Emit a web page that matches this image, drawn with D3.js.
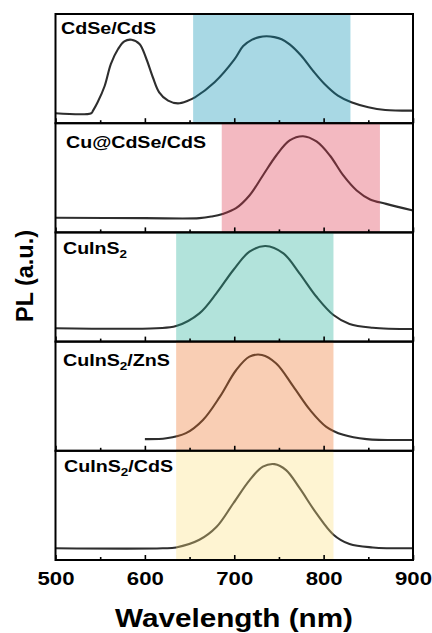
<!DOCTYPE html>
<html>
<head>
<meta charset="utf-8">
<script src="https://cdn.jsdelivr.net/npm/d3@7"></script>
<style>
  body { margin: 0; background: #fff; }
  text { font-family: "Liberation Sans", Arial, sans-serif; font-weight: bold; fill: #000; }
</style>
</head>
<body>
<div class="chart"></div>
<script>
// x axis ticks (nm)
var majorTicks = [500, 600, 700, 800, 900];
var minorTicks = [550, 650, 750, 850];

// sample names, "_2" marks a subscript 2
var sampleNames = ["CdSe/CdS", "Cu@CdSe/CdS", "CuInS_2", "CuInS_2/ZnS", "CuInS_2/CdS"];

// PL spectra: [wavelength nm, intensity a.u.]
var cdseCds = [[500, 0], [540, 0], [542, 0.03], [547, 0.125], [555, 0.32], [562, 0.58], [570, 0.755],
  [577, 0.846], [585, 0.865], [594, 0.814], [601, 0.658], [609, 0.42], [616, 0.246], [626, 0.147],
  [637, 0.116], [648, 0.147], [656, 0.187], [678, 0.364], [700, 0.63], [710, 0.79], [720, 0.865],
  [728, 0.895], [736, 0.905], [745, 0.895], [753, 0.87], [762, 0.81], [775, 0.676], [788, 0.5],
  [801, 0.343], [816, 0.206], [831, 0.128], [850, 0.07], [869, 0.038], [900, 0.03]];
var cuCdseCds = [[500, 0.055], [600, 0.05], [661, 0.05], [675, 0.07], [687, 0.1], [702, 0.167],
  [717, 0.316], [732, 0.552], [747, 0.787], [762, 0.964], [777, 1.014], [792, 0.952], [807, 0.787],
  [822, 0.552], [837, 0.375], [852, 0.27], [870, 0.218], [900, 0.14]];
var cuInS2 = [[500, 0.04], [613, 0.04], [635, 0.065], [661, 0.215], [680, 0.45], [699, 0.725],
  [717, 0.94], [735, 1.007], [755, 0.92], [773, 0.686], [792, 0.41], [811, 0.195], [829, 0.09],
  [855, 0.046], [900, 0.03]];
var cuInS2ZnS = [[600, 0.02], [624, 0.03], [646, 0.09], [665, 0.245], [684, 0.52], [702, 0.83],
  [717, 0.99], [731, 1.01], [747, 0.91], [766, 0.64], [785, 0.36], [803, 0.165], [822, 0.07],
  [848, 0.02], [900, 0.01]];
var cuInS2CdS = [[500, 0.02], [620, 0.02], [635, 0.03], [661, 0.12], [680, 0.27], [699, 0.55],
  [717, 0.82], [732, 0.98], [745, 1.01], [758, 0.94], [773, 0.73], [792, 0.43], [811, 0.18],
  [829, 0.07], [855, 0.03], [900, 0.02]];
var spectra = [cdseCds, cuCdseCds, cuInS2, cuInS2ZnS, cuInS2CdS];

// shaded emission windows (nm)
var bandRanges = [[654, 830], [686, 863], [635, 811], [635, 811], [635, 811]];
var bandColors = ["#068fb2", "#dd374e", "#23af98", "#ee7328", "#fce07f"];

var svgWidth = 432;
var svgHeight = 633;
var margin = { top: 14, left: 55.5, right: 19, bottom: 73 };
var width = svgWidth - margin.left - margin.right;
var height = svgHeight - margin.top - margin.bottom;
var panelH = height / spectra.length;

// label placement inside each panel: offset from panel corner and drawn width
var labelLayout = [
  { dx: 5.5, dy: 20, w: 95 },
  { dx: 10.5, dy: 25, w: 140 },
  { dx: 7.5, dy: 21.5, w: 64 },
  { dx: 7.5, dy: 24, w: 107 },
  { dx: 8.5, dy: 21, w: 109 }
];

var svg = d3.select(".chart")
  .append("svg")
  .attr("width", svgWidth)
  .attr("height", svgHeight);

var chartGroup = svg.append("g")
  .attr("transform", `translate(${margin.left}, ${margin.top})`);

var xScale = d3.scaleLinear().domain([500, 900]).range([0, width]);
var yScale = d3.scaleLinear().domain([0, 1]).range([panelH - 10, panelH - 95]);

var line = d3.line()
  .x(d => xScale(d[0]))
  .y(d => yScale(d[1]))
  .curve(d3.curveCatmullRom.alpha(0.5));

spectra.forEach(function(data, i) {
  var g = chartGroup.append("g")
    .attr("transform", `translate(0, ${i * panelH})`);

  // spectrum
  g.append("path")
    .datum(data)
    .attr("d", line)
    .attr("fill", "none")
    .attr("stroke", "#2e2e2e")
    .attr("stroke-width", 2.1)
    .attr("stroke-linejoin", "round");

  // shaded band over the line
  g.append("rect")
    .attr("x", xScale(bandRanges[i][0]))
    .attr("width", xScale(bandRanges[i][1]) - xScale(bandRanges[i][0]))
    .attr("y", 0)
    .attr("height", panelH)
    .attr("fill", bandColors[i])
    .attr("fill-opacity", 0.35);

  // inward ticks
  var major = g.append("g")
    .attr("transform", `translate(0, ${panelH})`)
    .call(d3.axisBottom(xScale).tickValues(majorTicks).tickSize(-5).tickFormat(""));
  var minor = g.append("g")
    .attr("transform", `translate(0, ${panelH})`)
    .call(d3.axisBottom(xScale).tickValues(minorTicks).tickSize(-3).tickFormat(""));
  [major, minor].forEach(function(ax) {
    ax.select(".domain").remove();
    ax.selectAll("line").attr("stroke", "#000").attr("stroke-width", 1.6);
  });

  // frame
  g.append("rect")
    .attr("width", width)
    .attr("height", panelH)
    .attr("fill", "none")
    .attr("stroke", "#000")
    .attr("stroke-width", 2);

  // sample label
  var lay = labelLayout[i];
  var label = g.append("text")
    .attr("x", lay.dx)
    .attr("y", lay.dy)
    .attr("font-size", "16px")
    .attr("textLength", lay.w)
    .attr("lengthAdjust", "spacingAndGlyphs");
  var parts = sampleNames[i].split("_2");
  label.append("tspan").text(parts[0]);
  if (parts.length > 1) {
    label.append("tspan").attr("font-size", "11px").attr("dy", 4).text("2");
    label.append("tspan").attr("dy", -4).text(parts[1]);
  }
});

// x tick labels under the last panel
var xAxis = chartGroup.append("g")
  .attr("transform", `translate(0, ${height})`)
  .call(d3.axisBottom(xScale).tickValues(majorTicks).tickSize(0).tickFormat(d3.format("d")));
xAxis.select(".domain").remove();
xAxis.attr("font-family", null).attr("font-size", null);
xAxis.selectAll("text")
  .attr("y", 25)
  .attr("dy", null)
  .attr("font-size", "18px")
  .attr("fill", "#000")
  .attr("textLength", 37)
  .attr("lengthAdjust", "spacingAndGlyphs");

// axis titles
svg.append("text")
  .attr("x", 234)
  .attr("y", 627)
  .attr("text-anchor", "middle")
  .attr("font-size", "26px")
  .attr("textLength", 238)
  .attr("lengthAdjust", "spacingAndGlyphs")
  .text("Wavelength (nm)");

svg.append("text")
  .attr("transform", "translate(33, 276) rotate(-90)")
  .attr("text-anchor", "middle")
  .attr("font-size", "23px")
  .attr("textLength", 92)
  .attr("lengthAdjust", "spacingAndGlyphs")
  .text("PL (a.u.)");
</script>
</body>
</html>
